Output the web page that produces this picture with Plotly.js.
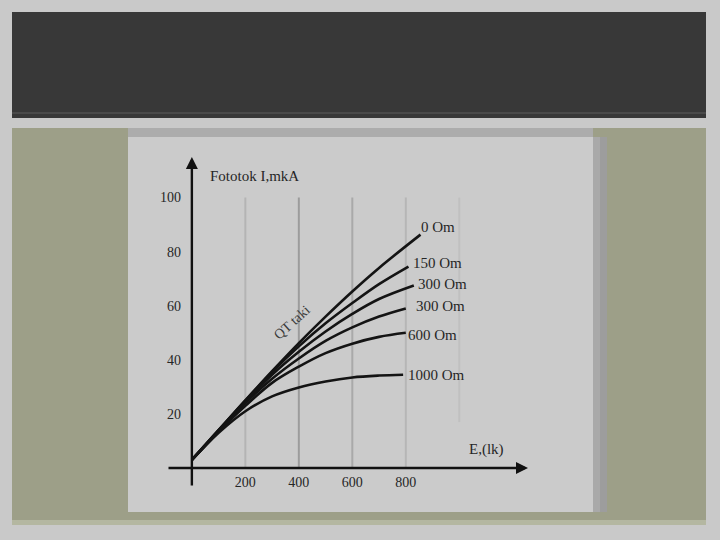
<!DOCTYPE html>
<html>
<head>
<meta charset="utf-8">
<script src="https://cdn.plot.ly/plotly-3.0.1.min.js"></script>
<style>html,body{margin:0;padding:0;background:#c9c9c9;}#chart{width:720px;height:540px;}</style>
</head>
<body>
<div id="chart"></div>
<script>
// ---- data ----
const seriesNames = ["0 Om", "150 Om", "300 Om", "300 Om ", "600 Om", "1000 Om"];
const x0 = [0, 100, 200, 300, 400, 500, 600, 700, 855];
const y0 = [3, 14, 25, 35.8, 46.2, 56, 65.3, 74, 86.3];
const x150 = [0, 100, 200, 300, 400, 500, 600, 700, 810];
const y150 = [3, 14, 25, 35.5, 45, 53.5, 61, 68, 74.5];
const x300a = [0, 100, 200, 300, 400, 500, 600, 700, 830];
const y300a = [3, 14, 24.5, 34.5, 43, 50.5, 57, 62.5, 67.5];
const x300b = [0, 100, 200, 300, 400, 500, 600, 700, 800];
const y300b = [3, 13.5, 24, 33, 40.5, 47, 52, 56, 59];
const x600 = [0, 100, 200, 300, 400, 500, 600, 700, 800];
const y600 = [3, 13.5, 23, 31.5, 37.5, 42.5, 46, 48.5, 50];
const x1000 = [0, 100, 200, 300, 400, 500, 600, 700, 790];
const y1000 = [3, 13, 21, 26.5, 29.8, 32, 33.5, 34.2, 34.5];
const xTickVals = [200, 400, 600, 800];
const xTickText = ["200", "400", "600", "800"];
const yTickVals = [20, 40, 60, 80, 100];
const yTickText = ["20", "40", "60", "80", "100"];
const gridX = [200, 400, 600, 800, 1000];
const yTitle = "Fototok I,mkA";
const xTitle = "E,(lk)";
const curveNote = "QT taki";

// ---- layout helpers (pixel -> paper) ----
const M = {l: 167, r: 192, t: 157, b: 53};
const W = 720 - M.l - M.r, H = 540 - M.t - M.b;
const px = p => (p - M.l) / W;
const py = p => (540 - M.b - p) / H;
function rect(x0p, y0p, x1p, y1p, color) {
  return {type: 'rect', xref: 'paper', yref: 'paper', layer: 'below',
    x0: px(x0p), x1: px(x1p), y0: py(y0p), y1: py(y1p),
    fillcolor: color, line: {width: 0}};
}

const xs = [x0, x150, x300a, x300b, x600, x1000];
const ys = [y0, y150, y300a, y300b, y600, y1000];
const traces = xs.map((x, i) => ({
  type: 'scatter', mode: 'lines', x: x, y: ys[i], name: seriesNames[i],
  line: {color: '#141414', width: 2.6, shape: 'spline', smoothing: 1},
  hoverinfo: 'skip'
}));

const gridColors = {200: '#b4b4b4', 400: '#9c9c9c', 600: '#a9a9a9', 800: '#b6b6b6', 1000: '#c0c0c0'};
const gridTop = {200: 100, 400: 100, 600: 100, 800: 100, 1000: 100};
const gridBottom = {200: 0, 400: 0, 600: 0, 800: 0, 1000: 17};

const shapes = [
  rect(0, 0, 720, 540, '#c9c9c9'),
  rect(12, 12, 706, 118, '#383838'),
  rect(12, 112, 706, 114, '#4a4a4a'),
  rect(12, 128, 706, 525, '#9d9f88'),
  rect(12, 520, 706, 525, '#b4b7a1'),
  rect(128, 128, 593, 137, '#acacac'),
  rect(128, 137, 593, 512, '#cbcbcb'),
  rect(593, 137, 600, 512, '#a9a9a9'),
  rect(600, 137, 607, 512, '#9d9d9d'),
].concat(gridX.map(g => ({
  type: 'line', xref: 'x', yref: 'y', layer: 'below',
  x0: g, x1: g, y0: gridBottom[g], y1: gridTop[g],
  line: {color: gridColors[g], width: 2}
})));

const serif = 'Liberation Serif, Times New Roman, serif';
const txt = '#262626';
const curveLabelPos = [
  {x: 851, y: 89}, {x: 821, y: 75.9}, {x: 839, y: 68.1},
  {x: 832, y: 60}, {x: 802, y: 49.3}, {x: 802, y: 34.4}
];
const annotations = [
  // axes with arrows
  {x: 1257, y: 0, ax: -93, ay: 0, xref: 'x', yref: 'y', axref: 'x', ayref: 'y',
   text: '', showarrow: true, arrowhead: 2, arrowsize: 1, arrowwidth: 2.4, arrowcolor: '#111'},
  {x: 0, y: 115, ax: 0, ay: -7, xref: 'x', yref: 'y', axref: 'x', ayref: 'y',
   text: '', showarrow: true, arrowhead: 2, arrowsize: 1, arrowwidth: 2.4, arrowcolor: '#111'},
  {x: 60, y: 107.8, xref: 'x', yref: 'y', text: yTitle, showarrow: false,
   xanchor: 'left', yanchor: 'middle', font: {family: serif, size: 15, color: txt}},
  {x: 1030, y: 6.7, xref: 'x', yref: 'y', text: xTitle, showarrow: false,
   xanchor: 'left', yanchor: 'middle', font: {family: serif, size: 15, color: txt}},
  {x: 373, y: 54, xref: 'x', yref: 'y', text: curveNote, showarrow: false,
   textangle: -42, font: {family: serif, size: 14, color: '#3a3a3a'}}
].concat(seriesNames.map((n, i) => ({
  x: curveLabelPos[i].x, y: curveLabelPos[i].y, xref: 'x', yref: 'y',
  text: n.trim(), showarrow: false, xanchor: 'left', yanchor: 'middle',
  font: {family: serif, size: 15, color: txt}
})));

const layout = {
  width: 720, height: 540,
  margin: M,
  paper_bgcolor: '#c9c9c9',
  plot_bgcolor: 'rgba(0,0,0,0)',
  showlegend: false,
  xaxis: {range: [-93, 1257], showgrid: false, zeroline: false, showline: false,
    tickmode: 'array', tickvals: xTickVals, ticktext: xTickText, ticks: '',
    anchor: 'free', position: 0.045,
    tickfont: {family: serif, size: 14, color: txt}, fixedrange: true},
  yaxis: {range: [-7, 115], showgrid: false, zeroline: false, showline: false,
    tickmode: 'array', tickvals: yTickVals, ticktext: yTickText, ticks: '',
    anchor: 'free', position: 0.039,
    tickfont: {family: serif, size: 14, color: txt}, fixedrange: true},
  shapes: shapes,
  annotations: annotations
};

Plotly.newPlot('chart', traces, layout, {displayModeBar: false, staticPlot: true});
</script>
</body>
</html>
